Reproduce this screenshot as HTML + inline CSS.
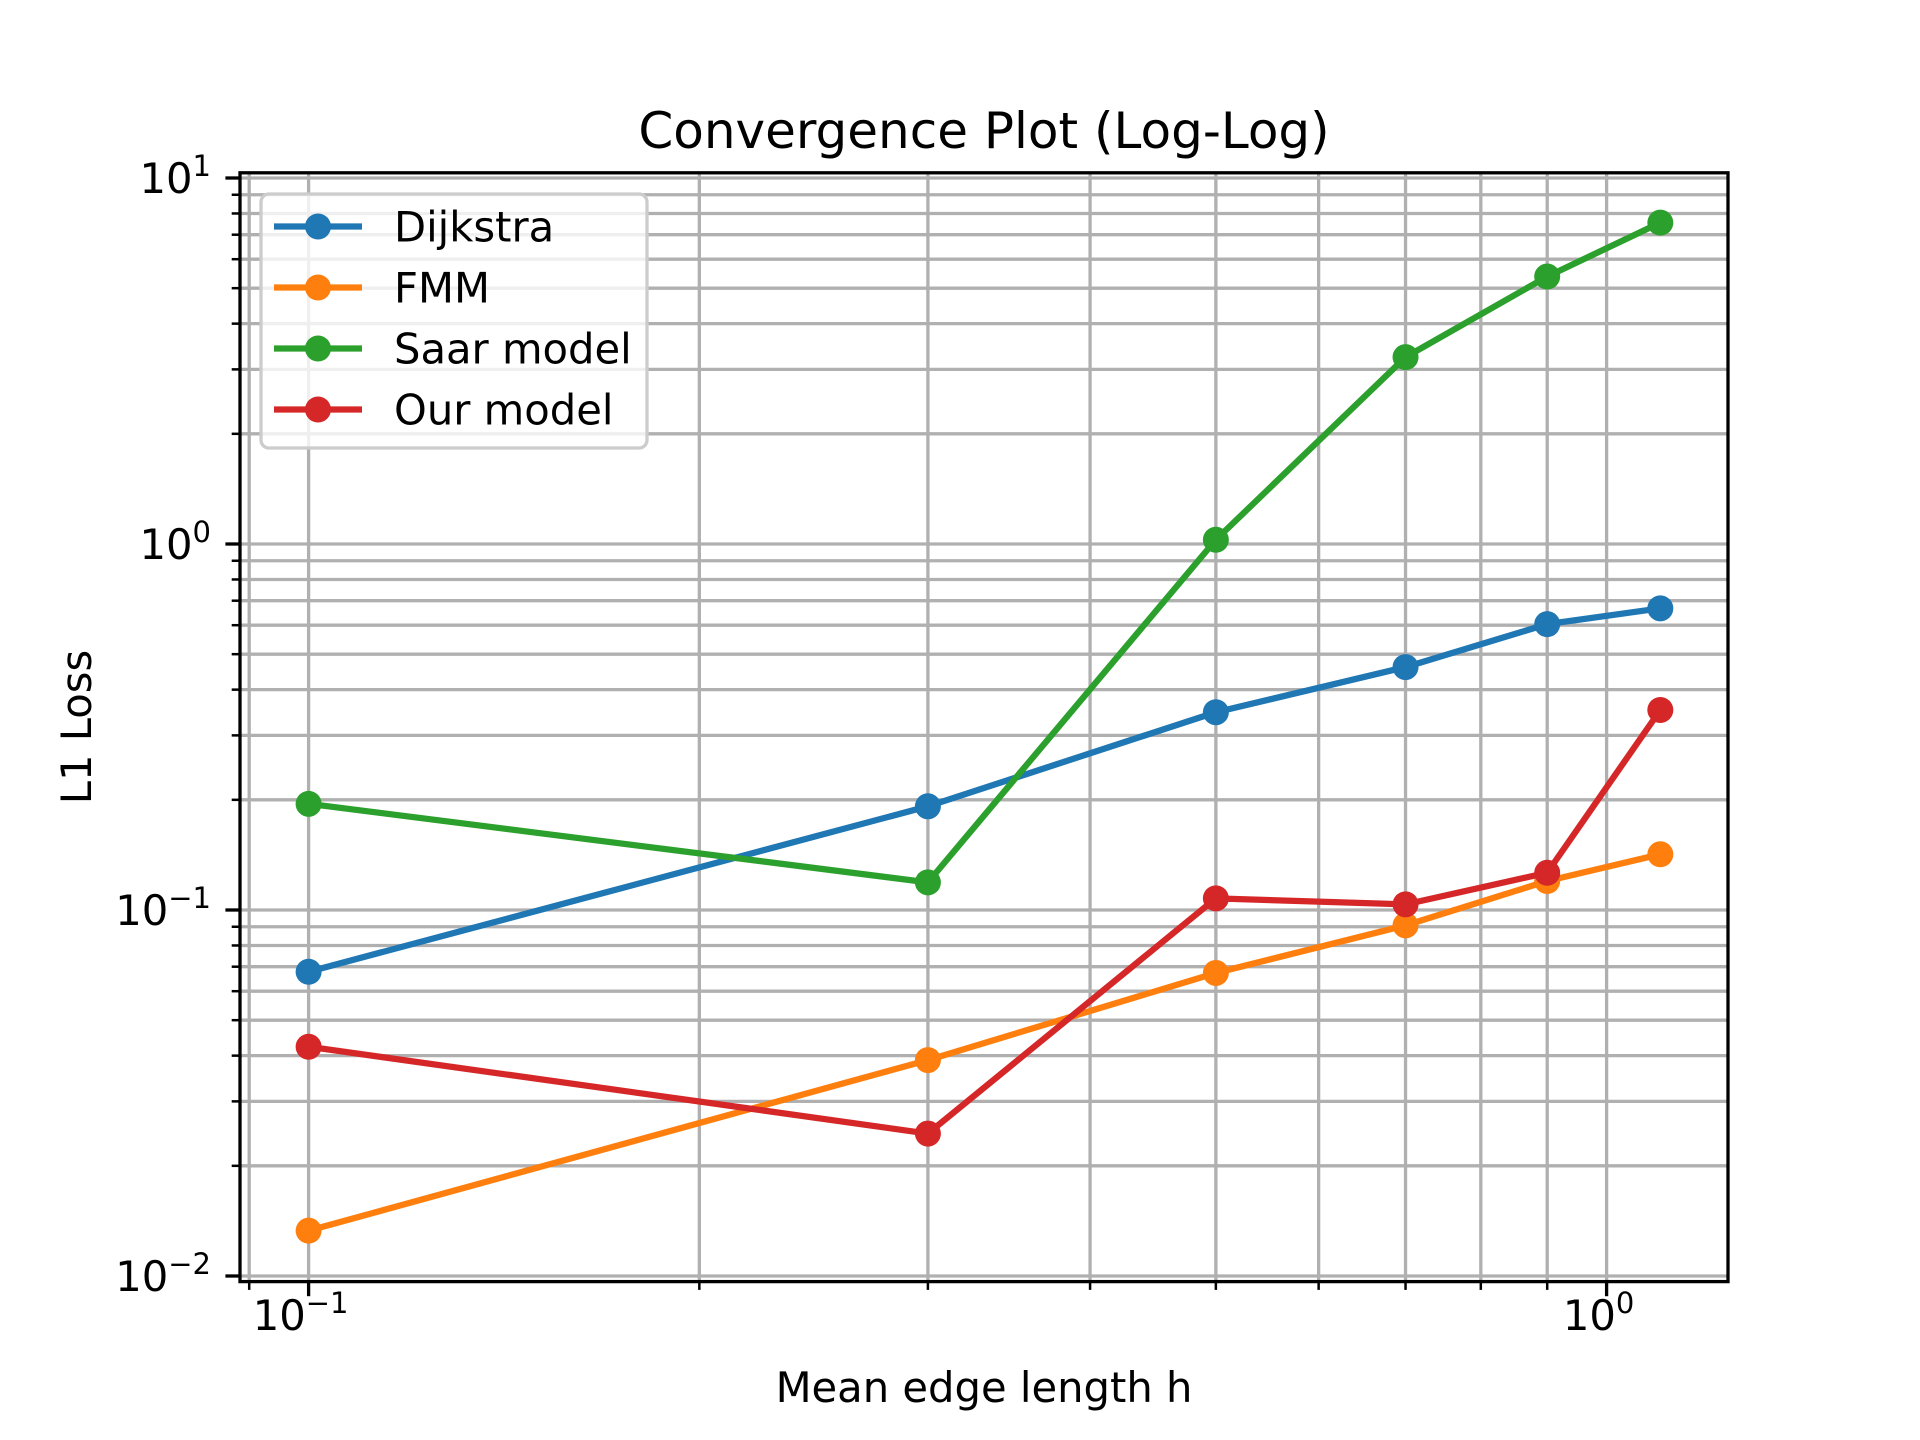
<!DOCTYPE html>
<html><head><meta charset="utf-8"><style>
html,body{margin:0;padding:0;background:#fff;}
svg{display:block;font-family:"DejaVu Sans","Liberation Sans",sans-serif;}
</style></head><body>
<svg id="chart" width="1920" height="1440" viewBox="0 0 1920 1440" xmlns="http://www.w3.org/2000/svg">
<rect width="1920" height="1440" fill="#fff"/>
<text x="984" y="148" font-size="50" text-anchor="middle" fill="#000">Convergence Plot (Log-Log)</text>
<text x="984" y="1402" font-size="41.7" text-anchor="middle" fill="#000">Mean edge length h</text>
<text transform="translate(91,727) rotate(-90)" font-size="41.7" text-anchor="middle" fill="#000">L1 Loss</text>
<g id="grid"></g><g id="series"></g><g id="axes"></g><g id="legend"></g>
</svg>
<script>
const xValues = [0.1, 0.3, 0.5, 0.7, 0.9, 1.1];
const seriesNames = ["Dijkstra", "FMM", "Saar model", "Our model"];
const dijkstra = [0.0678, 0.192, 0.347, 0.461, 0.604, 0.667];
const fmm = [0.0133, 0.0389, 0.0673, 0.0908, 0.120, 0.142];
const saar = [0.195, 0.119, 1.027, 3.24, 5.38, 7.55];
const ours = [0.0423, 0.0245, 0.1076, 0.1036, 0.1264, 0.352];
const xTickLabels = ["10", "10"];
const xTickExps = ["−1", "0"];
const yTickExps = ["−2", "−1", "0", "1"];

const colors = ["#1f77b4", "#ff7f0e", "#2ca02c", "#d62728"];
const allSeries = [dijkstra, fmm, saar, ours];
const L=240, R=1728, T=172.8, B=1281.6;
const xs = v => 308.6 + (Math.log10(v) + 1) * 1298;
const ys = v => 178 + (1 - Math.log10(v)) * 366;
const NS = "http://www.w3.org/2000/svg";
function mk(tag, attrs, parent){const e=document.createElementNS(NS,tag);for(const k in attrs)e.setAttribute(k,attrs[k]);parent.appendChild(e);return e;}
const grid=document.getElementById('grid'), axes=document.getElementById('axes'), ser=document.getElementById('series'), leg=document.getElementById('legend');

for (let d=-2; d<=0; d++){
  for (let m=1; m<=9; m++){
    const v=m*Math.pow(10,d), x=xs(v);
    if (x<L-0.5||x>R+0.5) continue;
    const g=mk('line',{x1:x,x2:x,y1:T,y2:B,stroke:'#b0b0b0','stroke-width':3.3},grid);
    
    
    const t=mk('line',{x1:x,x2:x,y1:B,y2:B+(m===1?14.6:8.3),stroke:'#000','stroke-width':m===1?3.3:2.5},axes);
    
    
  }
}
for (let d=-3; d<=1; d++){
  for (let m=1; m<=9; m++){
    const v=m*Math.pow(10,d), y=ys(v);
    if (y<T-0.5||y>B+0.5) continue;
    const g=mk('line',{x1:L,x2:R,y1:y,y2:y,stroke:'#b0b0b0','stroke-width':3.3},grid);
    
    
    const t=mk('line',{x1:L-(m===1?14.6:8.3),x2:L,y1:y,y2:y,stroke:'#000','stroke-width':m===1?3.3:2.5},axes);
    
    
  }
}
const fr=mk('rect',{x:L,y:T,width:R-L,height:B-T,fill:'none',stroke:'#000','stroke-width':3.3},axes);


[0.1,1].forEach((v,i)=>{
  const t=mk('text',{x:xs(v)-8,y:1330,'font-size':41.7,'text-anchor':'middle',fill:'#000'},axes);
  
  
  t.textContent=xTickLabels[i];
  const s=mk('tspan',{'font-size':29,dy:-17},t); s.textContent=xTickExps[i];
});
[0.01,0.1,1,10].forEach((v,i)=>{
  const t=mk('text',{x:211,y:ys(v)+15,'font-size':41.7,'text-anchor':'end',fill:'#000'},axes);
  
  
  t.textContent='10';
  const s=mk('tspan',{'font-size':29,dy:-17},t); s.textContent=yTickExps[i];
});
allSeries.forEach((vals,si)=>{
  const pts=vals.map((v,i)=>xs(xValues[i])+','+ys(v)).join(' ');
  const pl=mk('polyline',{points:pts,fill:'none',stroke:colors[si],'stroke-width':6.25,'stroke-linejoin':'round','stroke-linecap':'square'},ser);
  
  
  vals.forEach((v,i)=>{
    const c=mk('circle',{cx:xs(xValues[i]),cy:ys(v),r:13,fill:colors[si]},ser);
    
    
  });
});
const lb=mk('rect',{x:261,y:194,width:386,height:254,rx:8,fill:'#fff','fill-opacity':0.8,stroke:'#cccccc','stroke-width':3.3},leg);


seriesNames.forEach((n,i)=>{
  const y=226.5+i*61;
  const l=mk('line',{x1:274,x2:362,y1:y,y2:y,stroke:colors[i],'stroke-width':6.25},leg);
  
  
  const c=mk('circle',{cx:318,cy:y,r:13,fill:colors[i]},leg);
  
  
  const t=mk('text',{x:394,y:y+15,'font-size':41.7,fill:'#000'},leg);
  
  
  t.textContent=n;
});
</script>
</body></html>
